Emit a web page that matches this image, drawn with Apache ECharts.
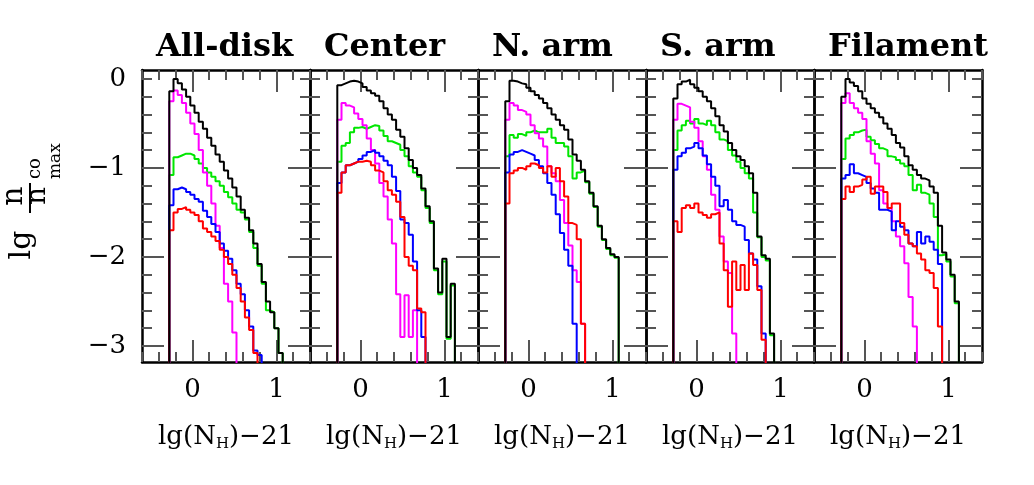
<!DOCTYPE html>
<html><head><meta charset="utf-8">
<script src="https://cdn.jsdelivr.net/npm/echarts@6/dist/echarts.min.js"></script>
<style>html,body{margin:0;padding:0;background:#fff}#c{width:1034px;height:485px}</style>
</head><body><div id="c"></div>
<script>
// ---------- data ----------
const panelNames = ['All-disk', 'Center', 'N. arm', 'S. arm', 'Filament'];
const binStart = -0.275;   // left edge of first histogram bin, lg(N_H)-21
const binWidth = 0.05;
const xMajorTicks = [0, 1];
const yMajorTicks = [-1, -2, -3];
const yLabelTicks = [0, -1, -2, -3];
const yMinorTicks = [0, -0.2, -0.4, -0.6, -0.8, -1, -1.2, -1.4, -1.6, -1.8, -2, -2.2, -2.4, -2.6, -2.8, -3];

// All-disk
const allDiskGreen   = [-1.08, -0.88, -0.86, -0.84, -0.84, -0.86, -0.9, -0.95, -1.0, -1.05, -1.1, -1.15, -1.2, -1.27, -1.33, -1.4, -1.47, -1.5, -1.58, -1.72, -1.9, -2.1, -2.3, -2.6, -2.62, -2.8, -3.08];
const allDiskMagenta = [-0.25, -0.13, -0.18, -0.27, -0.38, -0.5, -0.62, -0.8, -1.05, -1.2, -1.4, -1.65, -1.9, -2.3, -2.5, -2.85];
const allDiskBlue    = [-1.42, -1.24, -1.22, -1.24, -1.27, -1.3, -1.35, -1.38, -1.48, -1.55, -1.63, -1.72, -1.85, -1.93, -2.02, -2.15, -2.3, -2.42, -2.6, -2.78, -3.05, -3.1];
const allDiskRed     = [-1.7, -1.5, -1.46, -1.44, -1.47, -1.5, -1.53, -1.6, -1.68, -1.72, -1.77, -1.82, -1.92, -2.0, -2.08, -2.2, -2.35, -2.5, -2.68, -2.82, -3.08];
const allDiskBlack   = [-0.14, 0.0, -0.05, -0.12, -0.2, -0.3, -0.38, -0.48, -0.56, -0.66, -0.75, -0.85, -0.93, -1.03, -1.12, -1.22, -1.32, -1.47, -1.56, -1.7, -1.85, -2.08, -2.28, -2.5, -2.62, -2.8, -3.08];

// Center
const centerGreen   = [-0.93, -0.75, -0.72, -0.6, -0.55, -0.54, -0.56, -0.54, -0.52, -0.53, -0.58, -0.64, -0.7, -0.72, -0.74, -0.8, -0.87, -0.98, -1.05, -1.1, -1.25, -1.45, -1.62, -2.15, -2.42, -2.05, -2.92, -2.32];
const centerMagenta = [-0.46, -0.27, -0.3, -0.32, -0.39, -0.45, -0.52, -0.67, -0.8, -0.95, -1.17, -1.32, -1.58, -1.85, -2.42, -2.9, -2.43, -2.9, -2.6];
const centerBlue    = [-1.17, -1.05, -0.97, -0.95, -0.93, -0.9, -0.86, -0.82, -0.8, -0.83, -0.87, -0.92, -0.97, -1.1, -1.26, -1.58, -1.62, -1.75, -2.05, -2.6, -2.9];
const centerRed     = [-1.28, -1.05, -0.97, -0.95, -0.93, -0.93, -0.92, -0.93, -0.97, -1.03, -1.05, -1.15, -1.25, -1.3, -1.38, -1.55, -2.0, -2.1, -2.15, -2.58, -2.62];
const centerBlack   = [-0.07, -0.05, -0.03, -0.02, -0.03, -0.05, -0.09, -0.13, -0.16, -0.19, -0.25, -0.33, -0.4, -0.46, -0.57, -0.65, -0.78, -0.91, -1.0, -1.08, -1.23, -1.43, -1.6, -2.13, -2.4, -2.02, -2.9, -2.3];

// N. arm
const nArmGreen   = [-0.87, -0.63, -0.66, -0.62, -0.64, -0.6, -0.58, -0.6, -0.6, -0.6, -0.56, -0.66, -0.72, -0.72, -0.76, -0.87, -1.12, -1.05, -1.03, -1.16, -1.29, -1.44, -1.66, -1.81, -1.91, -1.98, -2.01];
const nArmMagenta = [-0.46, -0.27, -0.3, -0.35, -0.37, -0.4, -0.52, -0.61, -0.67, -0.76, -0.98, -1.06, -1.15, -1.36, -1.62, -1.87, -2.15, -2.28, -2.75];
const nArmBlue    = [-1.05, -0.85, -0.82, -0.8, -0.82, -0.84, -0.86, -0.91, -0.98, -1.06, -1.17, -1.3, -1.52, -1.73, -1.92, -2.1, -2.75];
const nArmRed     = [-1.4, -1.06, -1.03, -1.0, -1.02, -0.98, -0.95, -0.97, -1.0, -1.05, -0.98, -1.1, -1.0, -1.15, -1.32, -1.62, -1.64, -1.8, -2.75];
const nArmBlack   = [-0.25, -0.02, -0.03, -0.05, -0.06, -0.1, -0.14, -0.18, -0.22, -0.27, -0.33, -0.4, -0.46, -0.52, -0.57, -0.68, -0.85, -0.92, -1.02, -1.15, -1.28, -1.43, -1.65, -1.8, -1.9, -1.97, -2.0];

// S. arm
const sArmGreen   = [-0.8, -0.58, -0.52, -0.47, -0.5, -0.45, -0.5, -0.52, -0.47, -0.52, -0.6, -0.68, -0.7, -0.8, -0.86, -0.93, -1.0, -1.06, -1.12, -1.5, -1.78, -2.0, -2.04, -2.88];
const sArmMagenta = [-0.46, -0.28, -0.3, -0.32, -0.48, -0.55, -0.7, -0.87, -1.02, -1.3, -1.47, -1.77, -2.05, -2.18, -2.86];
const sArmBlue    = [-1.02, -0.87, -0.83, -0.78, -0.76, -0.72, -0.78, -0.86, -0.96, -1.1, -1.2, -1.43, -1.36, -1.47, -1.6, -1.64, -1.66, -1.81, -1.96, -2.03, -2.33, -2.86];
const sArmRed     = [-1.6, -1.72, -1.45, -1.42, -1.45, -1.4, -1.5, -1.53, -1.56, -1.52, -1.5, -1.85, -2.15, -2.56, -2.05, -2.37, -2.09, -2.37, -1.96, -2.09, -2.37, -2.93];
const sArmBlack   = [-0.22, -0.06, -0.03, -0.01, -0.06, -0.1, -0.14, -0.2, -0.25, -0.33, -0.42, -0.52, -0.59, -0.72, -0.8, -0.87, -0.91, -0.98, -1.06, -1.28, -1.77, -1.98, -2.02, -2.86];

// Filament
const filamentGreen   = [-0.9, -0.67, -0.63, -0.6, -0.58, -0.57, -0.65, -0.69, -0.73, -0.78, -0.8, -0.87, -0.88, -0.91, -0.95, -0.98, -1.08, -1.25, -1.19, -1.28, -1.3, -1.4, -1.55, -1.98, -1.97, -2.05, -2.22, -2.52];
const filamentMagenta = [-0.27, -0.16, -0.27, -0.33, -0.38, -0.45, -0.7, -0.84, -0.95, -1.25, -1.4, -1.45, -1.6, -1.77, -1.88, -2.07, -2.45, -2.78];
const filamentBlue    = [-1.12, -1.08, -0.96, -1.06, -1.08, -1.1, -1.17, -1.23, -1.28, -1.47, -1.47, -1.49, -1.7, -1.6, -1.66, -1.7, -1.85, -1.88, -1.72, -1.85, -1.77, -1.83, -1.92, -2.08];
const filamentRed     = [-1.35, -1.21, -1.27, -1.21, -1.19, -1.13, -1.1, -1.29, -1.21, -1.21, -1.27, -1.45, -1.4, -1.4, -1.62, -1.75, -1.85, -1.88, -1.96, -2.03, -2.15, -2.18, -2.35, -2.78];
const filamentBlack   = [-0.2, 0.0, -0.04, -0.08, -0.14, -0.22, -0.28, -0.33, -0.38, -0.43, -0.5, -0.56, -0.63, -0.72, -0.77, -0.87, -0.97, -1.02, -1.08, -1.12, -1.14, -1.21, -1.28, -1.65, -1.95, -2.03, -2.2, -2.5];

// ---------- layout / style ----------
const panels = [
  [allDiskGreen, allDiskMagenta, allDiskBlue, allDiskRed, allDiskBlack],
  [centerGreen, centerMagenta, centerBlue, centerRed, centerBlack],
  [nArmGreen, nArmMagenta, nArmBlue, nArmRed, nArmBlack],
  [sArmGreen, sArmMagenta, sArmBlue, sArmRed, sArmBlack],
  [filamentGreen, filamentMagenta, filamentBlue, filamentRed, filamentBlack]
];
const lineColors = ['#00e600', '#ff00ff', '#0000ff', '#ff0000', '#000000'];
const X_MIN = -0.6, X_MAX = 1.4, Y_MIN = -3.18, Y_MAX = 0.1, FLOOR = -5;
const FONT = '"DejaVu Serif", "Liberation Serif", serif';
const GRID_LEFT = 142, GRID_W = 168, GRID_TOP = 70, GRID_H = 292;
const TICK = { color: '#555', width: 2 };
const FRAME = { show: true, onZero: false, lineStyle: { color: '#000', width: 2.5 } };
const NOLINE = { show: false, onZero: false };

function histPoints(vals) {
  const pts = [[binStart, FLOOR]];
  vals.forEach((v, k) => pts.push([binStart + k * binWidth, v]));
  pts.push([binStart + vals.length * binWidth, FLOOR]);
  return pts;
}

const grids = [], xAxes = [], yAxes = [], series = [], titles = [];
panels.forEach((sets, i) => {
  grids.push({ left: GRID_LEFT + i * GRID_W, top: GRID_TOP, width: GRID_W, height: GRID_H });
  titles.push({ text: panelNames[i], left: GRID_LEFT + i * GRID_W + 9, top: 27,
    textStyle: { fontFamily: FONT, fontWeight: 'bold', fontSize: 32, color: '#000' } });
  const xb = { type: 'value', gridIndex: i, min: X_MIN, max: X_MAX, splitLine: { show: false } };
  xAxes.push(Object.assign({}, xb, {
    position: 'bottom', interval: 0.2, axisLine: FRAME,
    axisTick: { show: true, inside: true, length: 10, lineStyle: TICK },
    axisLabel: { show: true, customValues: xMajorTicks, margin: 15, fontFamily: FONT, fontSize: 26, color: '#000' },
    name: '{t|lg(N}{s|H}{t|)−21}', nameLocation: 'middle', nameGap: 58,
    nameTextStyle: { rich: {
      t: { fontFamily: FONT, fontSize: 26, color: '#000', lineHeight: 34 },
      s: { fontFamily: FONT, fontSize: 15, color: '#000', lineHeight: 34, padding: [14, 0, 0, 0] }
    } }
  }));
  xAxes.push(Object.assign({}, xb, { position: 'bottom', axisLine: NOLINE,
    axisTick: { show: true, inside: true, length: 22, customValues: xMajorTicks, lineStyle: TICK }, axisLabel: { show: false } }));
  xAxes.push(Object.assign({}, xb, { position: 'top', interval: 0.2, axisLine: FRAME,
    axisTick: { show: true, inside: true, length: 10, lineStyle: TICK }, axisLabel: { show: false } }));
  xAxes.push(Object.assign({}, xb, { position: 'top', axisLine: NOLINE,
    axisTick: { show: true, inside: true, length: 22, customValues: xMajorTicks, lineStyle: TICK }, axisLabel: { show: false } }));

  const yb = { type: 'value', gridIndex: i, min: Y_MIN, max: Y_MAX, splitLine: { show: false } };
  yAxes.push(Object.assign({}, yb, { position: 'left', axisLine: FRAME,
    axisTick: { show: true, inside: true, length: 10, customValues: yMinorTicks, lineStyle: TICK },
    axisLabel: { show: i === 0, customValues: yLabelTicks, margin: 16, fontFamily: FONT, fontSize: 26, color: '#000',
      formatter: v => (v < 0 ? '−' + Math.abs(v) : String(v)) } }));
  yAxes.push(Object.assign({}, yb, { position: 'left', axisLine: NOLINE,
    axisTick: { show: true, inside: true, length: 22, customValues: yMajorTicks, lineStyle: TICK }, axisLabel: { show: false } }));
  yAxes.push(Object.assign({}, yb, { position: 'right', axisLine: FRAME,
    axisTick: { show: true, inside: true, length: 10, customValues: yMinorTicks, lineStyle: TICK }, axisLabel: { show: false } }));
  yAxes.push(Object.assign({}, yb, { position: 'right', axisLine: NOLINE,
    axisTick: { show: true, inside: true, length: 22, customValues: yMajorTicks, lineStyle: TICK }, axisLabel: { show: false } }));

  sets.forEach((vals, s) => {
    series.push({
      type: 'line', step: 'end', xAxisIndex: 4 * i, yAxisIndex: 4 * i,
      data: histPoints(vals), symbol: 'none', clip: true, silent: true,
      lineStyle: { color: lineColors[s], width: 2 }, z: 2 + s
    });
  });
});

const yTitle = {
  type: 'group', x: 0, y: 270, rotation: Math.PI / 2,
  children: [
    { type: 'text', x: 25, y: 22, style: { text: 'lg', fontFamily: FONT, fontSize: 30, fill: '#000', align: 'center', verticalAlign: 'middle', textAlign: 'center', textVerticalAlign: 'middle' } },
    { type: 'text', x: 74, y: 14, style: { text: 'n', fontFamily: FONT, fontSize: 30, fill: '#000', align: 'center', verticalAlign: 'middle', textAlign: 'center', textVerticalAlign: 'middle' } },
    { type: 'line', shape: { x1: 57, y1: 30, x2: 87, y2: 30 }, style: { stroke: '#000', lineWidth: 2 } },
    { type: 'text', x: 74, y: 38, style: { text: 'n', fontFamily: FONT, fontSize: 28, fill: '#000', align: 'center', verticalAlign: 'middle', textAlign: 'center', textVerticalAlign: 'middle' } },
    { type: 'text', x: 91, y: 35, style: { text: 'co', fontFamily: FONT, fontSize: 18, fill: '#000', align: 'left', verticalAlign: 'middle', textAlign: 'left', textVerticalAlign: 'middle' } },
    { type: 'text', x: 91, y: 56, style: { text: 'max', fontFamily: FONT, fontSize: 17, fill: '#000', align: 'left', verticalAlign: 'middle', textAlign: 'left', textVerticalAlign: 'middle' } }
  ]
};

const chart = echarts.init(document.getElementById('c'), null, { renderer: 'canvas' });
chart.setOption({
  animation: false,
  backgroundColor: '#fff',
  title: titles,
  grid: grids,
  xAxis: xAxes,
  yAxis: yAxes,
  series: series,
  graphic: [yTitle]
});
</script></body></html>
